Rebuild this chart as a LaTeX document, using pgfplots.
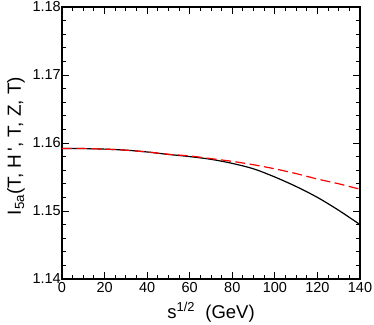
\documentclass[border=0pt]{standalone}
\usepackage{fontspec}
\setmainfont{Liberation Sans}
\usepackage{pgfplots}
\pgfplotsset{compat=1.18}
\usetikzlibrary{calc}

\begin{document}
\begin{tikzpicture}
\begin{axis}[
  scale only axis,width=298bp,height=272bp,
  xmin=0,xmax=140,ymin=1.14,ymax=1.18,
  xtick={0,20,...,140},ytick={1.14,1.15,1.16,1.17,1.18},
  minor x tick num=3,minor y tick num=4,
  tick align=inside,major tick length=7bp,minor tick length=4bp,
  every tick/.style={black,line width=0.9bp},
  axis line style={line width=1.2bp},
  /pgf/number format/assume math mode=true,
  yticklabel style={/pgf/number format/fixed,/pgf/number format/fixed zerofill,/pgf/number format/precision=2,inner sep=1bp},
  scaled y ticks=false,
  tick label style={font=\fontsize{14.5bp}{16bp}\selectfont},
  xticklabel style={inner sep=1bp,yshift=-2bp},
  xlabel={s\textsuperscript{1/2}\ \ (GeV)},
  ylabel={I\textsubscript{5a}(T, H\,\textquotesingle, T, Z, T)},
  xlabel style={font=\fontsize{18.5bp}{20bp}\selectfont,
    at={(axis description cs:0.5,-0.1434)},anchor=base},
  ylabel style={font=\fontsize{19bp}{21bp}\selectfont,
    at={(axis description cs:-0.1376,0.489)},anchor=base},
]
\coordinate (bl) at (rel axis cs:0,0);
\coordinate (tr) at (rel axis cs:1,1);
\addplot[black,line width=1.2bp,smooth] coordinates {
(0,1.1592) (10,1.15918) (20,1.1591) (30,1.15895) (40,1.15868) (50,1.15832)
(60,1.1580) (70,1.1576) (80,1.1570) (90,1.1562) (100,1.1550) (110,1.1536)
(120,1.1520) (130,1.1501) (140,1.1480)};
\addplot[red,line width=1.2bp,smooth,dash pattern=on 10bp off 4.5bp] coordinates {
(0,1.1592) (10,1.15918) (20,1.1591) (30,1.15894) (40,1.15868) (50,1.15834)
(60,1.1581) (70,1.1577) (80,1.1573) (90,1.1568) (100,1.1562) (110,1.1555)
(120,1.1547) (130,1.1540) (140,1.1532)};
\end{axis}
\pgfresetboundingbox
\path[use as bounding box] ($(bl)+(-62bp,-46bp)$) rectangle ($(tr)+(14bp,7bp)$);
\end{tikzpicture}
\end{document}
